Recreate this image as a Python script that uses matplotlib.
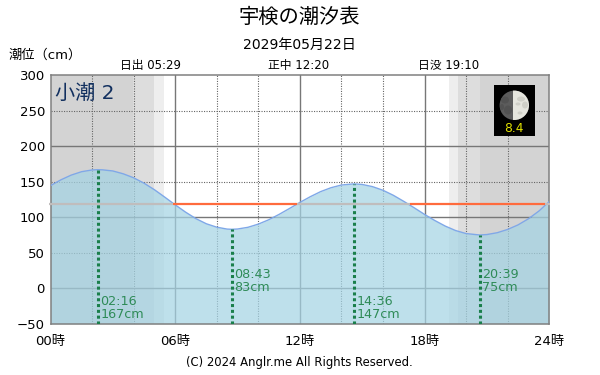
import numpy as np
import matplotlib
matplotlib.use('Agg')
import matplotlib.pyplot as plt
from matplotlib.patches import Circle, Ellipse, Rectangle

plt.rcParams['font.family'] = ['DejaVu Sans', 'Noto Sans CJK JP']

# tide level (hour, cm)
hours = [0, 0.5, 1, 1.5, 2, 2.27, 2.5, 3, 3.5, 4, 4.5, 5, 5.5, 6, 6.5, 7, 7.5, 8, 8.5, 8.72, 9,
         9.5, 10, 10.5, 11, 11.5, 12, 12.5, 13, 13.5, 14, 14.6, 15, 15.5, 16, 16.5, 17, 17.5,
         18, 18.5, 19, 19.5, 20, 20.65, 21, 21.5, 22, 22.5, 23, 23.5, 24]
level = [144.5, 152.7, 159.4, 164.2, 166.6, 167, 166.8, 165.2, 161.2, 155.6, 148, 138.8, 128.3,
         117.5, 107.2, 98, 90.8, 86, 83.3, 83, 83.4, 85.8, 90.3, 96.4, 104, 112.3, 120.8, 128.9,
         136.1, 141.6, 145.4, 147, 146.2, 143.1, 138, 130.9, 122.4, 113.4, 104, 95.3, 87.5, 81.2,
         77, 75, 75.6, 78.2, 82.8, 89.2, 97.8, 108.6, 122]

# high and low tides
peak_hours = [2.27, 8.72, 14.6, 20.65]
peak_levels = [167, 83, 147, 75]
peak_labels = ['02:16\n167cm', '08:43\n83cm', '14:36\n147cm', '20:39\n75cm']
label_levels = [-46, -8, -46, -8]

# twilight bands (start hour, end hour, colour)
night_bands = [(0, 3.97, '#d3d3d3'), (3.97, 5.0, '#dddddd'), (5.0, 5.45, '#eeeeee'),
               (19.16, 19.6, '#eeeeee'), (19.6, 20.65, '#dddddd'), (20.65, 24, '#d3d3d3')]

# level of the orange line, orange where the tide is below it
mean_level = 118
mean_spans_over = [(-0.08, 5.9), (11.85, 17.3), (23.8, 24.03)]
mean_spans_under = [(5.9, 11.85), (17.3, 23.8)]

sun_times = ['日出 05:29', '正中 12:20', '日没 19:10']
sun_px = [150, 299, 449]

fig = plt.figure(figsize=(6, 3.75), dpi=100)
ax = fig.add_axes([50.5 / 600, 1 - 323.7 / 375, 498.7 / 600, 248.4 / 375])
ax.set_xlim(0, 24)
ax.set_ylim(-50, 300)

for x0, x1, c in night_bands:
    ax.axvspan(x0, x1, color=c, lw=0, zorder=0)

# grid
ax.set_xticks(range(0, 25, 6))
ax.set_xticklabels(['00時', '06時', '12時', '18時', '24時'], fontsize=9)
ax.set_yticks(range(-50, 301, 50))
ax.tick_params(length=0, labelsize=9.5, pad=4)
ax.tick_params(axis='x', pad=8)
for h in range(2, 24, 2):
    if h % 6:
        ax.axvline(h, color='#666666', lw=0.8, ls=(0, (1, 1.25)), zorder=1)
    else:
        ax.axvline(h, color='#777777', lw=1, zorder=1)
for v in [50, 150, 250]:
    ax.axhline(v, color='#666666', lw=0.8, ls=(0, (1, 1.25)), zorder=1)
for v in [0, 100, 200]:
    ax.axhline(v, color='#777777', lw=1, zorder=1)
for s in ax.spines.values():
    s.set_color('#808080')
    s.set_linewidth(1.1)

# tide curve
ax.fill_between(hours, level, -50, color='#a5d4e4', alpha=0.72, lw=0, zorder=2)
ax.plot(hours, level, color='#7fa8e8', lw=1, zorder=3)

for x0, x1 in mean_spans_under:
    ax.plot([x0, x1], [mean_level, mean_level], color='#ff6b3d', lw=1.6, zorder=4,
            solid_capstyle='butt')
for x0, x1 in mean_spans_over:
    ax.plot([x0, x1], [mean_level, mean_level], color='#c0bdbd', lw=1.6, zorder=4,
            solid_capstyle='butt', clip_on=False)

for h, v in zip(peak_hours, peak_levels):
    ax.plot([h, h], [-50, v], color='#1a7f4b', lw=2.2, ls=(0, (1, 0.9)), zorder=5)

for h, y, lab in zip(peak_hours, label_levels, peak_labels):
    ax.text(h + 0.14, y, lab, color='#2e8b57', fontsize=9.2, va='bottom', ha='left',
            linespacing=0.95, zorder=6)

ax.text(0.2, 275, '小潮 2', color='#12305f', fontsize=14.5, va='center', ha='left', zorder=6)

# moon picture
moon_ax = fig.add_axes([494 / 600, 1 - 136 / 375, 41 / 600, 51 / 375])
moon_ax.set_xlim(494, 535)
moon_ax.set_ylim(136, 85)
moon_ax.set_facecolor('black')
moon_ax.set_xticks([])
moon_ax.set_yticks([])
for s in moon_ax.spines.values():
    s.set_visible(False)
disc = Circle((514.3, 105.3), 14.7, color='#5c5c5c', lw=0)
moon_ax.add_patch(disc)
lit = Rectangle((513.4, 90), 17, 31, color='#e6e6de', lw=0)
moon_ax.add_patch(lit)
lit.set_clip_path(disc)
for cx, cy, w, h in [(521, 99, 8, 5), (525, 105, 6, 7), (518, 104, 5, 3), (520, 113, 5, 3)]:
    spot = Ellipse((cx, cy), w, h, color='#d0d0c8', lw=0)
    moon_ax.add_patch(spot)
    spot.set_clip_path(disc)
for cx, cy, w, h in [(505, 100, 8, 7), (508, 110, 8, 9), (502, 107, 4, 6)]:
    spot = Ellipse((cx, cy), w, h, color='#525252', lw=0)
    moon_ax.add_patch(spot)
    spot.set_clip_path(disc)
moon_ax.text(513.5, 128.3, '8.4', color='#e0e000', fontsize=8.8, ha='center', va='center')

fig.text(299.5 / 600, 1 - 17 / 375, '宇検の潮汐表', fontsize=14.6, ha='center', va='center')
fig.text(299 / 600, 1 - 45 / 375, '2029年05月22日', fontsize=10.1, ha='center', va='center')
fig.text(9 / 600, 1 - 55 / 375, '潮位（cm）', fontsize=9.5, ha='left', va='center')
for t, px in zip(sun_times, sun_px):
    fig.text(px / 600, 1 - 65.5 / 375, t, fontsize=8.5, ha='center', va='center')
fig.text(299.5 / 600, 1 - 362.5 / 375, '(C) 2024 Anglr.me All Rights Reserved.', fontsize=8.35,
         ha='center', va='center')

fig.savefig('out.png', dpi=100)
